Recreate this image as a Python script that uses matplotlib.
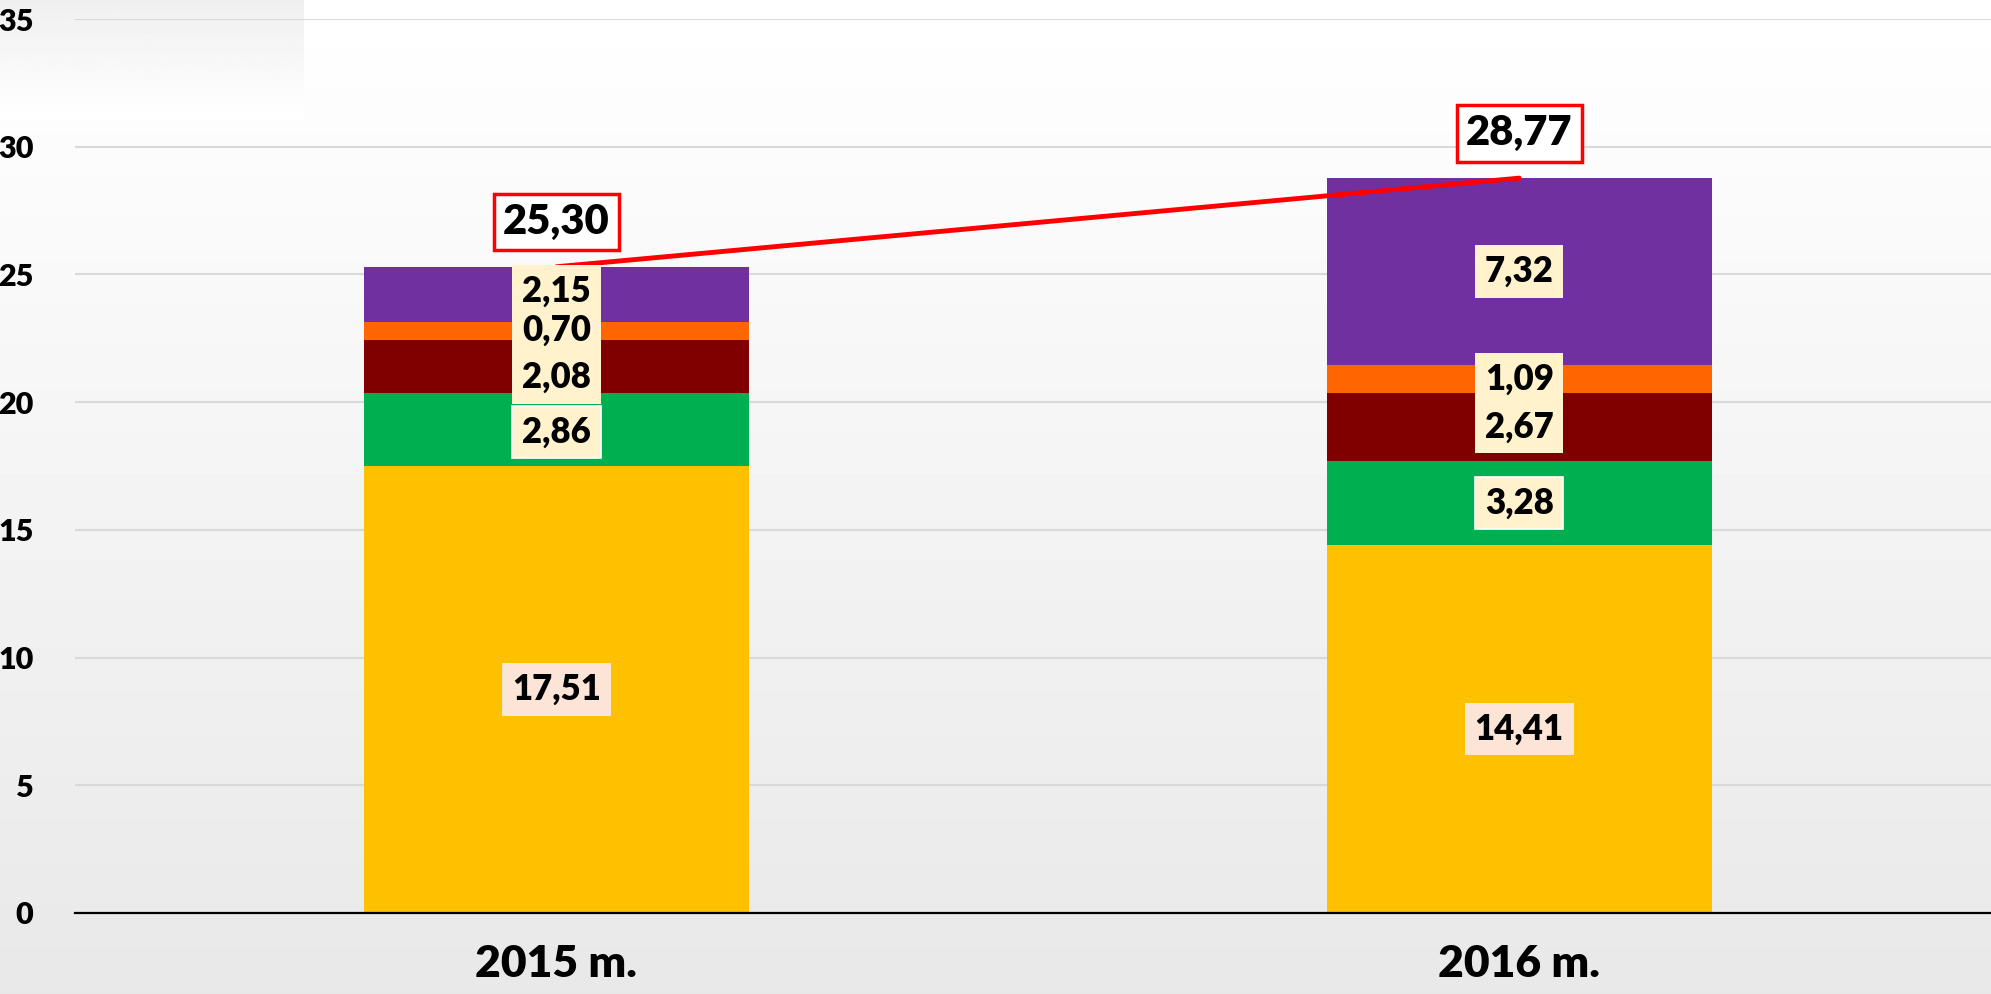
import numpy as np
import matplotlib.pyplot as plt

plt.rcParams['font.family'] = ['Lato', 'DejaVu Sans']

years = ['2015 m.', '2016 m.']
yellow = [17.51, 14.41]
green = [2.86, 3.28]
maroon = [2.08, 2.67]
orange = [0.70, 1.09]
purple = [2.15, 7.32]
totals = [25.30, 28.77]

series = [yellow, green, maroon, orange, purple]
colors = ['#FFC000', '#00B050', '#800000', '#FF6600', '#7030A0']
label_bg = ['#FCE4D6', '#FFF2CC', '#FFF2CC', '#FFF2CC', '#FFF2CC']
label_edge = ['none', 'white', 'none', 'none', 'none']
# small vertical nudges so the crowded labels of the first bar don't collide
nudge = [[0, 0], [-0.1, 0], [-0.45, 0], [0, 0], [0.1, 0]]

fig = plt.figure(figsize=(19.91, 9.94), dpi=100)

# background: white at top fading to light grey
bg = fig.add_axes([0, 0, 1, 1], zorder=-2)
grad = np.linspace(1.0, 0.91, 256).reshape(-1, 1)
bg.imshow(grad, cmap='gray', vmin=0, vmax=1, aspect='auto', extent=[0, 1, 0, 1])
# odd lighter patch in the top-left corner
patch = np.linspace(0.94, 1.0, 64).reshape(-1, 1)
bg.imshow(patch, cmap='gray', vmin=0, vmax=1, aspect='auto',
          extent=[0, 304 / 1991, 1 - 120 / 994, 1])
bg.set_xlim(0, 1)
bg.set_ylim(0, 1)
bg.axis('off')

ax = fig.add_axes([75 / 1991, 81 / 994, 1 - 75 / 1991, 894 / 994])
ax.patch.set_alpha(0)

x = np.arange(len(years))
bottom = np.zeros(len(years))
for vals, c, lb, le, nd in zip(series, colors, label_bg, label_edge, nudge):
    vals = np.array(vals)
    ax.bar(x, vals, width=0.4, bottom=bottom, color=c, zorder=2)
    for xi, b, v, n in zip(x, bottom, vals, nd):
        s = f'{v:.2f}'.replace('.', ',')
        # box first (text invisible), then the text on top so boxes never hide text
        ax.text(xi, b + v / 2 + n, s, ha='center', va='center', color='none',
                fontsize=25, fontweight='heavy', zorder=4,
                bbox=dict(boxstyle='square,pad=0.28', fc=lb, ec=le, lw=1.2))
        ax.text(xi, b + v / 2 + n, s, ha='center', va='center',
                fontsize=25, fontweight='heavy', zorder=5)
    bottom += vals

# trend line between totals
ax.plot(x, totals, color='#FF0000', lw=3.5, zorder=3, solid_capstyle='round')
for xi, t in zip(x, totals):
    ax.text(xi, t + 1.75, f'{t:.2f}'.replace('.', ','), ha='center', va='center',
            fontsize=30, fontweight='heavy', zorder=6,
            bbox=dict(boxstyle='square,pad=0.22', fc='white', ec='#FF0000', lw=2.5))

ax.set_xlim(-0.5, 1.49)
ax.set_ylim(0, 35)
ax.set_yticks(range(0, 36, 5))
ax.yaxis.grid(True, color='#D9D9D9', lw=1.5, zorder=0)
ax.set_axisbelow(True)
for s in ['top', 'right', 'left']:
    ax.spines[s].set_visible(False)
ax.spines['bottom'].set_linewidth(1.6)
ax.spines['bottom'].set_zorder(4)
ax.set_xticks(x)
ax.set_xticklabels(years, fontsize=32, fontweight='heavy')
ax.tick_params(axis='x', length=0, pad=22)
ax.tick_params(axis='y', length=0, pad=30, labelsize=22)
for t in ax.get_yticklabels():
    t.set_fontweight('heavy')

fig.savefig('out.png', dpi=100)
